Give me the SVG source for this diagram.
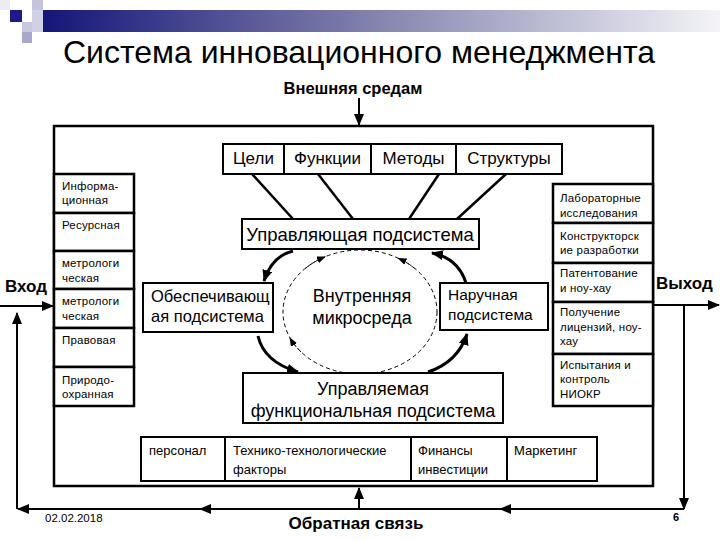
<svg xmlns="http://www.w3.org/2000/svg" width="720" height="540" viewBox="0 0 720 540">
<defs>
<linearGradient id="bar" x1="0" y1="0" x2="1" y2="0">
<stop offset="0" stop-color="#15157a"/>
<stop offset="0.45" stop-color="#7a7aa8"/>
<stop offset="1" stop-color="#f4f4f8"/>
</linearGradient>
<marker id="ah" viewBox="0 0 12 10" refX="11" refY="5" markerWidth="12" markerHeight="10" markerUnits="userSpaceOnUse" orient="auto">
<path d="M0,0 L12,5 L0,10 z" fill="#000"/>
</marker>
<marker id="ahs" viewBox="0 0 9 7" refX="8" refY="3.5" markerWidth="9" markerHeight="7" markerUnits="userSpaceOnUse" orient="auto">
<path d="M0,0 L9,3.5 L0,7 z" fill="#000"/>
</marker>
<style>
text{font-family:"Liberation Sans",Arial,sans-serif;fill:#000}
.box{fill:#fff;stroke:#000;stroke-width:2}
.frame{fill:none;stroke:#000;stroke-width:2.5}
.cell{fill:#fff;stroke:#000;stroke-width:2.5}
.small{font-size:11.5px;letter-spacing:0.2px}
.mid{font-size:13px}
.big{font-size:17px}
.lbl{font-size:17px;font-weight:bold}
.ln{fill:none;stroke:#000;stroke-width:2.5}
.cv{fill:none;stroke:#000;stroke-width:3}
.fb{fill:none;stroke:#000;stroke-width:2}
.ds{fill:none;stroke:#000;stroke-width:1;stroke-dasharray:4 3}
</style>
</defs>

<!-- decoration -->
<g id="decoration">
<rect x="43" y="10" width="677" height="22" fill="url(#bar)"/>
<rect x="0" y="0" width="10" height="10" fill="#ececf4"/>
<rect x="32" y="0" width="11" height="10" fill="#c4c4de"/>
<rect x="10" y="10" width="12" height="12" fill="#1a1a8a"/>
<rect x="32" y="10" width="11" height="22" fill="#d0d0e6"/>
<rect x="22" y="22" width="10" height="10" fill="#c8c8e0"/>
<rect x="22" y="32" width="10" height="11" fill="#a8a8cc"/>
</g>

<text x="359" y="63" text-anchor="middle" font-size="32">Система инновационного менеджмента</text>
<text x="353" y="94" text-anchor="middle" font-size="16.5" font-weight="bold">Внешняя средам</text>

<g id="frame">
<rect class="frame" x="54" y="126" width="599" height="360"/>
</g>

<!-- connectors -->
<g id="connectors">
<line class="fb" x1="359" y1="98" x2="359" y2="125" marker-end="url(#ah)"/>
<line class="ln" x1="252" y1="174" x2="293" y2="219"/>
<line class="ln" x1="318" y1="174" x2="353" y2="219"/>
<line class="ln" x1="439" y1="174" x2="409" y2="219"/>
<line class="ln" x1="506" y1="174" x2="457" y2="219"/>
<path class="cv" d="M293,251 Q272,256 264,281" marker-end="url(#ah)"/>
<path class="cv" d="M258,336 Q264,362 298,372" marker-end="url(#ah)"/>
<path class="cv" d="M428,372 Q458,362 467,334" marker-end="url(#ah)"/>
<path class="cv" d="M466,283 Q458,258 432,253" marker-end="url(#ah)"/>
<path class="ds" d="M301,352 A77 62 0 0 1 290,338" marker-end="url(#ahs)"/>
<path class="ds" d="M305.6,268.2 A77 62 0 0 1 325,256.8" marker-end="url(#ahs)"/>
<path class="ds" d="M414.4,268.2 A77 62 0 0 0 398.5,258.3" marker-end="url(#ahs)"/>
<line class="fb" x1="0" y1="306" x2="53" y2="306" marker-end="url(#ah)"/>
<line class="fb" x1="653" y1="305" x2="719" y2="305" marker-end="url(#ah)"/>
<line class="fb" x1="684" y1="305" x2="684" y2="509" marker-end="url(#ah)"/>
<line class="fb" x1="684" y1="509" x2="500" y2="509" marker-end="url(#ah)"/>
<line class="fb" x1="500" y1="509" x2="200" y2="509" marker-end="url(#ah)"/>
<line class="fb" x1="200" y1="509" x2="18" y2="509" marker-end="url(#ah)"/>
<line class="fb" x1="17" y1="509" x2="17" y2="313" marker-end="url(#ah)"/>
<line class="fb" x1="359" y1="509" x2="359" y2="488" marker-end="url(#ah)"/>
</g>

<!-- top row -->
<g id="goals">
<rect class="box" x="223" y="144" width="61" height="30"/>
<text class="big" x="253.5" y="164" text-anchor="middle">Цели</text>
</g>
<g id="functions">
<rect class="box" x="284" y="144" width="87" height="30"/>
<text class="big" x="327.5" y="164" text-anchor="middle">Функции</text>
</g>
<g id="methods">
<rect class="box" x="371" y="144" width="85" height="30"/>
<text class="big" x="413.5" y="164" text-anchor="middle">Методы</text>
</g>
<g id="structures">
<rect class="box" x="456" y="144" width="106" height="30"/>
<text class="big" x="509" y="164" text-anchor="middle">Структуры</text>
</g>

<g id="managing">
<rect class="box" x="242" y="219" width="237" height="30"/>
<text x="360" y="241" text-anchor="middle" font-size="18.5">Управляющая подсистема</text>
</g>

<g id="micro">
<ellipse class="ds" cx="360" cy="312" rx="77" ry="62"/>
<text x="362" y="302" text-anchor="middle" font-size="18">Внутренняя</text>
<text x="362" y="324" text-anchor="middle" font-size="18">микросреда</text>
</g>

<g id="supporting">
<rect class="box" x="143" y="283" width="130" height="49"/>
<text x="151" y="302" font-size="16.5">Обеспечивающ</text>
<text x="151" y="322" font-size="16.5">ая подсистема</text>
</g>

<g id="external-sub">
<rect class="box" x="440" y="283" width="108" height="47"/>
<text x="448" y="300" font-size="15.5">Наручная</text>
<text x="448" y="320" font-size="15.5">подсистема</text>
</g>

<g id="managed">
<rect class="box" x="243" y="373" width="260" height="50"/>
<text x="373" y="395" text-anchor="middle" font-size="18">Управляемая</text>
<text x="373" y="417" text-anchor="middle" font-size="18">функциональная подсистема</text>
</g>

<!-- left column -->
<g id="info">
<rect class="cell" x="54" y="174" width="80" height="39"/>
<text class="small" x="62" y="190">Информа-</text>
<text class="small" x="62" y="204">ционная</text>
</g>
<g id="resource">
<rect class="cell" x="54" y="213" width="80" height="38"/>
<text class="small" x="62" y="229">Ресурсная</text>
</g>
<g id="metro1">
<rect class="cell" x="54" y="251" width="80" height="38"/>
<text class="small" x="62" y="267">метрологи</text>
<text class="small" x="62" y="282">ческая</text>
</g>
<g id="metro2">
<rect class="cell" x="54" y="289" width="80" height="39"/>
<text class="small" x="62" y="305">метрологи</text>
<text class="small" x="62" y="320">ческая</text>
</g>
<g id="legal">
<rect class="cell" x="54" y="328" width="80" height="39"/>
<text class="small" x="62" y="344">Правовая</text>
</g>
<g id="nature">
<rect class="cell" x="54" y="367" width="80" height="39"/>
<text class="small" x="62" y="384">Природо-</text>
<text class="small" x="62" y="398">охранная</text>
</g>

<!-- right column -->
<g id="lab">
<rect class="cell" x="553" y="184" width="100" height="39"/>
<text class="small" x="560" y="202">Лабораторные</text>
<text class="small" x="560" y="217">исследования</text>
</g>
<g id="design">
<rect class="cell" x="553" y="223" width="100" height="40"/>
<text class="small" x="560" y="240">Конструкторск</text>
<text class="small" x="560" y="254">ие разработки</text>
</g>
<g id="patent">
<rect class="cell" x="553" y="263" width="100" height="39"/>
<text class="small" x="560" y="277">Патентование</text>
<text class="small" x="560" y="292">и ноу-хау</text>
</g>
<g id="license">
<rect class="cell" x="553" y="302" width="100" height="52"/>
<text class="small" x="560" y="316">Получение</text>
<text class="small" x="560" y="331">лицензий, ноу-</text>
<text class="small" x="560" y="345">хау</text>
</g>
<g id="tests">
<rect class="cell" x="553" y="354" width="100" height="52"/>
<text class="small" x="560" y="369">Испытания и</text>
<text class="small" x="560" y="383">контроль</text>
<text class="small" x="560" y="398">НИОКР</text>
</g>

<!-- bottom row -->
<g id="personnel">
<rect class="box" x="141" y="437" width="84" height="44"/>
<text class="mid" x="149" y="455">персонал</text>
</g>
<g id="tech">
<rect class="box" x="225" y="437" width="186" height="44"/>
<text class="mid" x="233" y="455">Технико-технологические</text>
<text class="mid" x="233" y="474">факторы</text>
</g>
<g id="finance">
<rect class="box" x="411" y="437" width="96" height="44"/>
<text class="mid" x="418" y="455">Финансы</text>
<text class="mid" x="418" y="474">инвестиции</text>
</g>
<g id="marketing">
<rect class="box" x="507" y="437" width="90" height="44"/>
<text class="mid" x="514" y="455">Маркетинг</text>
</g>

<text class="lbl" x="5" y="292">Вход</text>
<text class="lbl" x="656" y="289">Выход</text>
<text x="356" y="529" text-anchor="middle" font-size="17" font-weight="bold">Обратная связь</text>
<text x="45" y="522" font-size="11.5">02.02.2018</text>
<text x="673" y="521" font-size="11" font-weight="bold">6</text>
</svg>
